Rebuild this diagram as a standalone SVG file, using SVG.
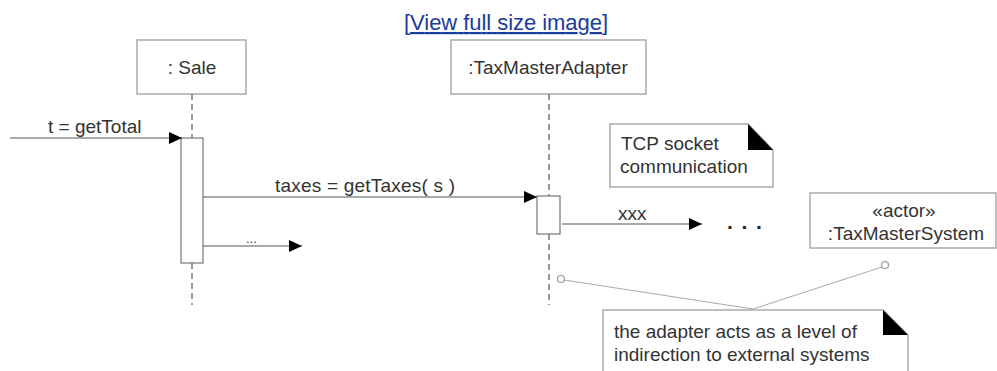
<svg xmlns="http://www.w3.org/2000/svg" width="997" height="371" viewBox="0 0 997 371">
<style>
text{font-family:"Liberation Sans",Arial,sans-serif;fill:#333;font-size:19px}
.box{fill:#fff;stroke:#aaa;stroke-width:1.5}
.act{fill:#fff;stroke:#777;stroke-width:1.2}
.life{stroke:#777;stroke-width:1.5;stroke-dasharray:6 4;fill:none}
.msg{stroke:#555;stroke-width:1.2;fill:none}
.link{stroke:#aaa;stroke-width:1;fill:none}
.ear{fill:#000}
</style>
<defs>
<marker id="ah" markerWidth="14" markerHeight="12" refX="13" refY="6" orient="auto" markerUnits="userSpaceOnUse">
<path d="M0,0 L13,6 L0,12 Z" fill="#000"/>
</marker>
</defs>
<text x="404" y="30" style="fill:#1a3c9c;font-size:22px" text-decoration="underline" textLength="204">[View full size image]</text>
<g id="sale">
<rect class="box" x="137" y="40" width="109" height="54"/>
<text x="192" y="74" text-anchor="middle">: Sale</text>
</g>
<g id="adapter">
<rect class="box" x="451" y="40" width="195" height="54"/>
<text x="548" y="74" text-anchor="middle">:TaxMasterAdapter</text>
</g>
<g id="taxmastersystem">
<rect class="box" x="810" y="193" width="186" height="55"/>
<text x="904" y="217" text-anchor="middle">«actor»</text>
<text x="906" y="240" text-anchor="middle">:TaxMasterSystem</text>
</g>
<g id="note-tcp">
<path class="box" d="M610,124 H748 L773,150 V187 H610 Z"/>
<path class="ear" d="M748,124 L773,150 H748 Z"/>
<text x="621" y="150">TCP socket</text>
<text x="620" y="173">communication</text>
</g>
<g id="note-adapter">
<path class="box" d="M603,310 H883 L908,335 V380 H603 Z"/>
<path class="ear" d="M883,310 L908,335 H883 Z"/>
<text x="614" y="338">the adapter acts as a level of</text>
<text x="614" y="361">indirection to external systems</text>
</g>
<g id="connectors">
<line class="life" x1="192" y1="94" x2="192" y2="138"/>
<line class="life" x1="192" y1="263" x2="192" y2="305"/>
<line class="life" x1="549" y1="94" x2="549" y2="196"/>
<line class="life" x1="549" y1="234" x2="549" y2="305"/>
<rect class="act" x="181" y="138" width="22" height="125"/>
<rect class="act" x="537" y="196" width="23" height="38"/>
<line class="msg" x1="10" y1="138" x2="182" y2="138" marker-end="url(#ah)"/>
<text x="48" y="133">t = getTotal</text>
<line class="msg" x1="203" y1="197" x2="537" y2="197" marker-end="url(#ah)"/>
<text x="275" y="192" textLength="180">taxes = getTaxes( s )</text>
<line class="msg" x1="203" y1="246" x2="302" y2="246" marker-end="url(#ah)"/>
<text x="246" y="243" style="font-size:13px">...</text>
<line class="msg" x1="562" y1="224" x2="702" y2="224" marker-end="url(#ah)"/>
<text x="618" y="220">xxx</text>
<text x="727" y="234" style="font-size:21px;font-weight:bold;fill:#222" textLength="36">· · ·</text>
<line class="link" x1="564" y1="280" x2="753" y2="309"/>
<line class="link" x1="882" y1="267" x2="753" y2="309"/>
<circle cx="561" cy="279" r="3.5" fill="#fff" stroke="#999" stroke-width="1.2"/>
<circle cx="885" cy="265" r="3.5" fill="#fff" stroke="#999" stroke-width="1.2"/>
</g>
</svg>
